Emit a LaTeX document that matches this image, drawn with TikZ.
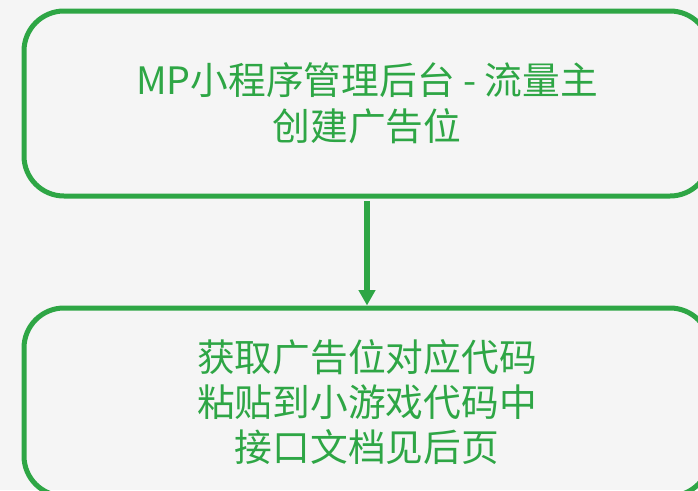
\documentclass[tikz,border=0pt]{standalone}
\usepackage{fontspec}
\newfontfamily\cjk{Noto Sans CJK SC}
\usetikzlibrary{arrows.meta}
\definecolor{bggray}{HTML}{F5F5F5}
\definecolor{grn}{HTML}{2EA645}
\begin{document}
\begin{tikzpicture}[x=0.75pt,y=-0.75pt,
  flowbox/.style={draw=grn, line width=3.75pt, rounded corners=30pt,
    minimum width=514.5pt, text=grn, align=center, inner sep=0pt},
  flowarrow/.style={draw=grn, line width=3.9pt, -{Triangle[length=11.5pt,width=12pt]}}]
\useasboundingbox (0,0) rectangle (698,490);
\fill[bggray] (0,0) rectangle (698,490);
\clip (0,0) rectangle (698,490);
\node[flowbox, minimum height=138.75pt,
  font=\cjk\fontsize{28.3pt}{34.5pt}\selectfont] (top) at (367,103.5)
  {MP小程序管理后台 - 流量主\\创建广告位};
\node[flowbox, minimum height=141pt,
  font=\cjk\fontsize{28.3pt}{33.5pt}\selectfont] (bottom) at (367,402)
  {获取广告位对应代码\\粘贴到小游戏代码中\\接口文档见后页};
\draw[flowarrow, shorten <=2pt] (top.south) -- (bottom.north);
\end{tikzpicture}
\end{document}
